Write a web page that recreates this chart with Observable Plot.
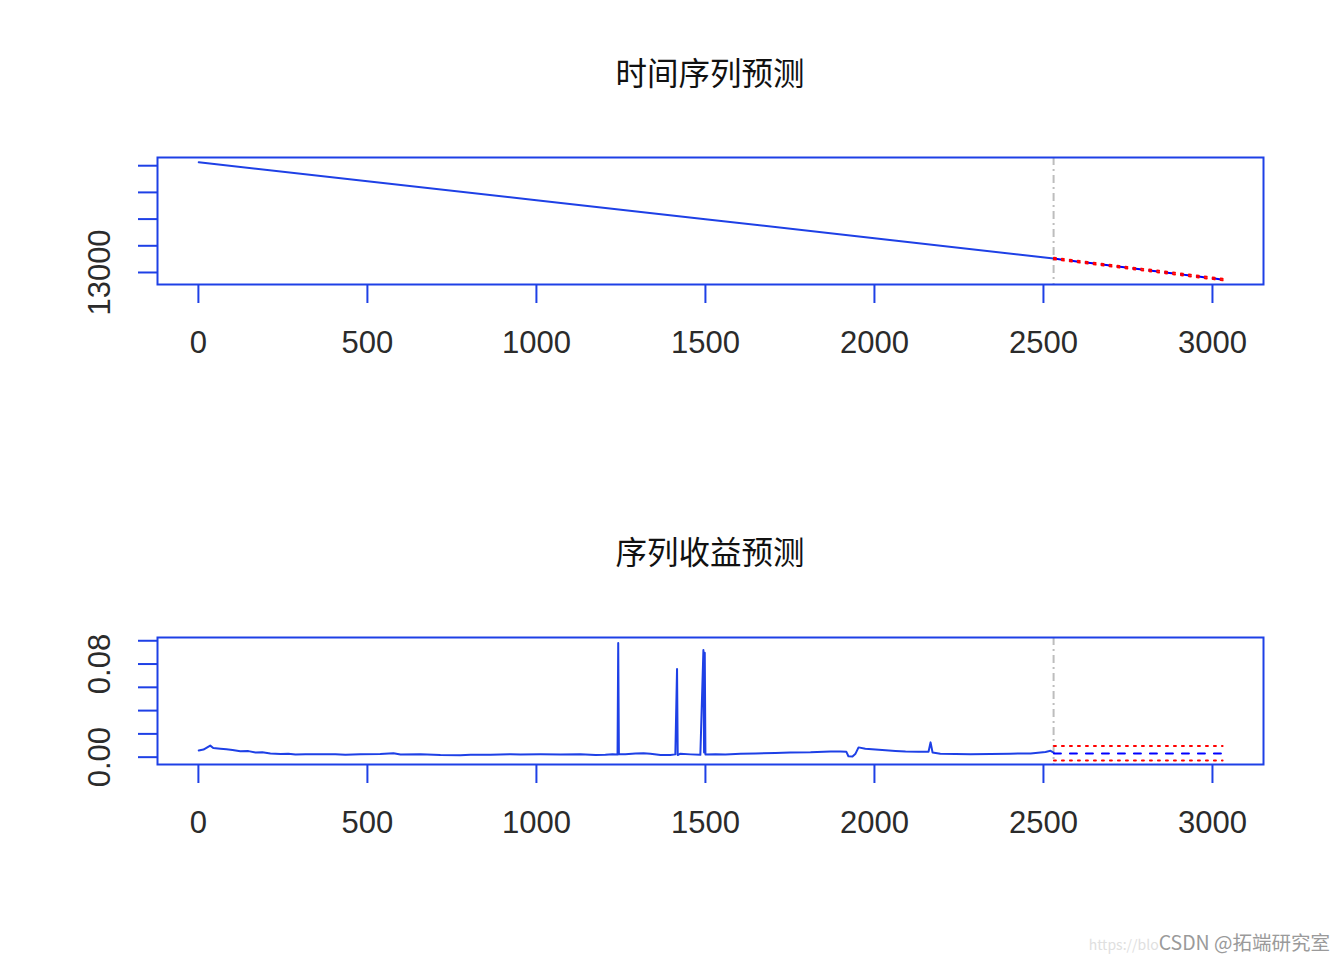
<!DOCTYPE html>
<html>
<head>
<meta charset="utf-8">
<script src="https://cdn.jsdelivr.net/npm/d3@7"></script>
<script src="https://cdn.jsdelivr.net/npm/@observablehq/plot@0.6"></script>
<style>
  html, body { margin: 0; padding: 0; background: #ffffff; }
  #wrap { position: relative; width: 1344px; height: 960px; overflow: hidden; background: #fff; }
  .title { position: absolute; left: 157px; width: 1106px; text-align: center; font-family: "Noto Sans CJK SC", sans-serif; font-size: 31.5px; line-height: 40px; color: #111; }
  .panel { position: absolute; left: 0; }
  .wm { position: absolute; font-family: "Noto Sans CJK SC", "Liberation Sans", sans-serif; line-height: 22px; white-space: nowrap; }
</style>
</head>
<body>
<div id="wrap">
  <div class="title" style="top:51px">时间序列预测</div>
  <div class="panel" id="p1" style="top:130px"></div>
  <div class="title" style="top:530px">序列收益预测</div>
  <div class="panel" id="p2" style="top:610px"></div>
  <div class="wm" style="right:14px; top:931px;"><span style="font-size:14px; color:#e0e0e0">https://blo</span><span style="font-size:19.5px; color:#9a9a9a">CSDN @拓端研究室</span></div>
</div>
<script>
// ---------- data ----------
const xTicks = [0, 500, 1000, 1500, 2000, 2500, 3000];
const forecastStart = 2530;

// Panel 1: price series
const priceIdx = [1, 500, 1000, 1500, 2000, 2530];
const priceVal = [21262, 19840, 18415, 16990, 15565, 14050];
const priceFcIdx = [2531, 3030];
const priceFcMean = [14045, 12470];
const priceFcUpper = [14105, 12530];
const priceFcLower = [13985, 12410];
const priceTicks = [13000, 15000, 17000, 19000, 21000];
const priceLabels = [13000];

// Panel 2: returns series
const retIdx = [1, 15, 35, 44, 65, 83, 101, 124, 148, 169, 189, 213, 243, 266, 287, 317, 361, 405, 435, 479, 538, 577, 598, 657, 716, 775, 805, 864, 923, 953, 1012, 1071, 1130, 1175, 1204, 1225, 1240, 1242, 1244, 1263, 1293, 1317, 1337, 1367, 1396, 1411, 1416, 1418, 1426, 1456, 1485, 1494, 1496, 1498, 1500, 1530, 1559, 1604, 1648, 1707, 1751, 1811, 1870, 1899, 1917, 1923, 1935, 1944, 1953, 1973, 2003, 2033, 2062, 2092, 2130, 2160, 2166, 2172, 2195, 2240, 2284, 2343, 2402, 2462, 2506, 2521, 2530];
const retVal = [0.0058, 0.0065, 0.0099, 0.0078, 0.0072, 0.0068, 0.0062, 0.0050, 0.0052, 0.0040, 0.0042, 0.0032, 0.0028, 0.0030, 0.0022, 0.0025, 0.0024, 0.0026, 0.0020, 0.0024, 0.0028, 0.0034, 0.0022, 0.0026, 0.0018, 0.0017, 0.0020, 0.0021, 0.0026, 0.0023, 0.0024, 0.0022, 0.0024, 0.0018, 0.0020, 0.0026, 0.0022, 0.0980, 0.0024, 0.0026, 0.0032, 0.0034, 0.0030, 0.0018, 0.0018, 0.0024, 0.0757, 0.0018, 0.0030, 0.0024, 0.0020, 0.0920, 0.0040, 0.0898, 0.0022, 0.0024, 0.0022, 0.0030, 0.0032, 0.0036, 0.0040, 0.0042, 0.0048, 0.0049, 0.0046, 0.0008, 0.0006, 0.0030, 0.0084, 0.0072, 0.0066, 0.0060, 0.0054, 0.0048, 0.0046, 0.0046, 0.0127, 0.0040, 0.0030, 0.0028, 0.0026, 0.0028, 0.0030, 0.0032, 0.0045, 0.0055, 0.0040];
const retFcIdx = [2531, 3030];
const retFcMean = [0.0032, 0.0032];
const retFcUpper = [0.0095, 0.0095];
const retFcLower = [-0.0028, -0.0028];
const retTicks = [0.00, 0.02, 0.04, 0.06, 0.08, 0.10];
const retLabels = [0.00, 0.08];

// ---------- drawing ----------
const BLUE = "#1e40e6";
const zip = (xs, ys) => xs.map((x, i) => ({x, y: ys[i]}));

function panel({series, fcMean, fcUpper, fcLower, yDomain, yTicks, yLabels, yFormat}) {
  return Plot.plot({
    width: 1344,
    height: 250,
    marginLeft: 157,
    marginRight: 81,
    marginTop: 27,
    marginBottom: 96,
    style: {fontFamily: "'Liberation Sans', Arial, sans-serif", fontSize: "31px", background: "transparent", overflow: "visible"},
    x: {domain: [-121, 3151], label: null},
    y: {domain: yDomain, label: null},
    axis: null,
    marks: [
      Plot.ruleX([forecastStart], {stroke: "#bdbdbd", strokeWidth: 2, strokeDasharray: "8,4,2,4"}),
      Plot.line(series, {x: "x", y: "y", stroke: BLUE, strokeWidth: 2}),
      Plot.line(fcMean, {x: "x", y: "y", stroke: "#0000ff", strokeWidth: 2, strokeDasharray: "7,9"}),
      Plot.line(fcUpper, {x: "x", y: "y", stroke: "#ff0000", strokeWidth: 2, strokeDasharray: "2,6"}),
      Plot.line(fcLower, {x: "x", y: "y", stroke: "#ff0000", strokeWidth: 2, strokeDasharray: "2,6"}),
      Plot.frame({stroke: BLUE, strokeWidth: 2}),
      Plot.axisX(xTicks, {tickSize: 19, tickPadding: 27, stroke: BLUE, strokeWidth: 2, fill: "#2b2b2b", fontSize: 31, tickFormat: d => String(d)}),
      Plot.axisY(yTicks, {tickSize: 19, tickPadding: 0, stroke: BLUE, strokeWidth: 2, tickFormat: () => ""}),
      Plot.text(yLabels, {y: d => d, frameAnchor: "left", dx: -57, rotate: -90, text: yFormat, fill: "#2b2b2b", fontSize: 31, textAnchor: "middle", lineAnchor: "middle"})
    ]
  });
}

document.getElementById("p1").appendChild(panel({
  series: zip(priceIdx, priceVal),
  fcMean: zip(priceFcIdx, priceFcMean),
  fcUpper: zip(priceFcIdx, priceFcUpper),
  fcLower: zip(priceFcIdx, priceFcLower),
  yDomain: [12100, 21615],
  yTicks: priceTicks,
  yLabels: priceLabels,
  yFormat: d => String(d)
}));

document.getElementById("p2").appendChild(panel({
  series: zip(retIdx, retVal),
  fcMean: zip(retFcIdx, retFcMean),
  fcUpper: zip(retFcIdx, retFcUpper),
  fcLower: zip(retFcIdx, retFcLower),
  yDomain: [-0.0063, 0.1028],
  yTicks: retTicks,
  yLabels: retLabels,
  yFormat: d => d.toFixed(2)
}));
</script>
</body>
</html>
